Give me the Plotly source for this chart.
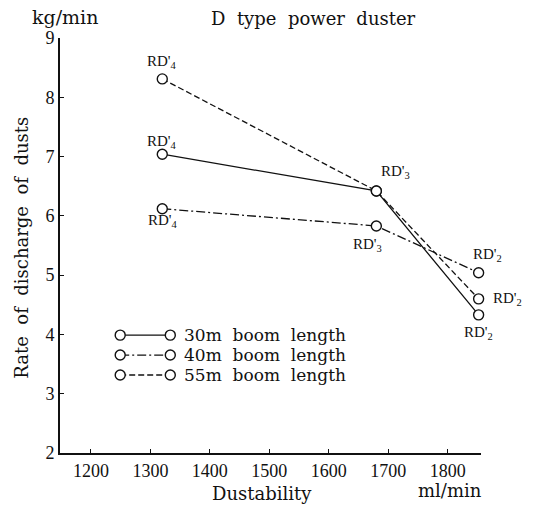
import plotly.graph_objects as go

# ---- data ----
dustability = [1320, 1680, 1852]            # ml/min
rate_30m = [7.04, 6.42, 4.33]               # kg/min
rate_40m = [6.12, 5.83, 5.04]
rate_55m = [8.31, 6.42, 4.60]
series_names = ["30m  boom  length", "40m  boom  length", "55m  boom  length"]
point_labels = ["RD'<sub>4</sub>", "RD'<sub>3</sub>", "RD'<sub>2</sub>"]
x_ticks = [1200, 1300, 1400, 1500, 1600, 1700, 1800]
y_ticks = [2, 3, 4, 5, 6, 7, 8, 9]

SERIF = "DejaVu Serif"
TNR = "Liberation Serif"
BLACK = "#111111"

series = [
    (rate_30m, "solid"),
    (rate_40m, "9px,3px,2px,3px"),
    (rate_55m, "6px,3px"),
]

fig = go.Figure()
for (vals, dash), name in zip(series, series_names):
    fig.add_trace(go.Scatter(
        x=dustability, y=vals, mode="lines+markers", name=name,
        line=dict(color=BLACK, width=1.3, dash=dash),
        marker=dict(symbol="circle", size=10, color="white",
                    line=dict(color=BLACK, width=1.4)),
        cliponaxis=False, showlegend=False,
    ))

# point labels: (series values, point index, xshift, yshift)
label_offsets = [
    (rate_55m, 0, 0, 17),
    (rate_30m, 0, 0, 12),
    (rate_40m, 0, 1, -12),
    (rate_30m, 1, 19, 19),
    (rate_40m, 1, -9, -19),
    (rate_40m, 2, 9, 18),
    (rate_55m, 2, 29, 0),
    (rate_30m, 2, 0, -18),
]
for vals, i, xs, ys in label_offsets:
    fig.add_annotation(x=dustability[i], y=vals[i], text=point_labels[i],
                       showarrow=False, xshift=xs, yshift=ys,
                       xanchor="center", yanchor="middle",
                       font=dict(family=TNR, size=15, color=BLACK))

# custom legend on an overlay axis (fractions of plot area)
leg_rows = [0.284, 0.236, 0.188]
for (vals, dash), name, ry in zip(series, series_names, leg_rows):
    fig.add_trace(go.Scatter(
        x=[0.143, 0.262], y=[ry, ry], xaxis="x2", yaxis="y2",
        mode="lines+markers", showlegend=False, hoverinfo="skip",
        line=dict(color=BLACK, width=1.3, dash=dash),
        marker=dict(symbol="circle", size=10, color="white",
                    line=dict(color=BLACK, width=1.4)),
        cliponaxis=False,
    ))
    fig.add_annotation(xref="paper", yref="paper", x=0.29, y=ry,
                       text=name.replace("  ", "\u00a0\u00a0"), showarrow=False,
                       xanchor="left", yanchor="middle",
                       font=dict(family=SERIF, size=17, color=BLACK))

def paper_text(x, y, text, size, angle=0):
    fig.add_annotation(xref="paper", yref="paper", x=x, y=y, text=text,
                       showarrow=False, xanchor="center", yanchor="middle",
                       textangle=angle,
                       font=dict(family=SERIF, size=size, color=BLACK))

paper_text(0.603, 1.048, "D\u00a0\u00a0type\u00a0\u00a0power\u00a0\u00a0duster", 18)
paper_text(0.012, 1.0506, "kg/min", 19)
paper_text(-0.091, 0.494,
           "Rate\u00a0\u00a0of\u00a0\u00a0discharge\u00a0\u00a0of\u00a0\u00a0dusts", 18, -90)
paper_text(0.48, -0.097, "Dustability", 18)
paper_text(0.927, -0.091, "ml/min", 18)

fig.update_layout(
    width=536, height=508,
    margin=dict(l=60, r=55, t=38, b=55),
    paper_bgcolor="white", plot_bgcolor="white",
    xaxis=dict(range=[1148, 1856], tickvals=x_ticks,
               showline=True, linewidth=2, linecolor=BLACK,
               ticks="inside", ticklen=4, tickwidth=1, tickcolor=BLACK,
               showgrid=False, zeroline=False, ticklabelstandoff=0,
               tickfont=dict(family=TNR, size=18, color=BLACK)),
    yaxis=dict(range=[2, 9], tickvals=y_ticks,
               showline=True, linewidth=2, linecolor=BLACK,
               ticks="inside", ticklen=4, tickwidth=1, tickcolor=BLACK,
               showgrid=False, zeroline=False,
               tickfont=dict(family=TNR, size=18, color=BLACK)),
    xaxis2=dict(range=[0, 1], overlaying="x", visible=False, fixedrange=True),
    yaxis2=dict(range=[0, 1], overlaying="y", visible=False, fixedrange=True),
    showlegend=False,
)

fig.write_html("out.html")
